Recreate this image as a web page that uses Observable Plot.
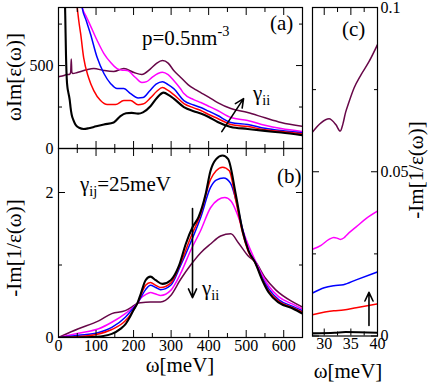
<!DOCTYPE html>
<html><head><meta charset="utf-8">
<script src="https://cdn.jsdelivr.net/npm/d3@7"></script>
<script src="https://cdn.jsdelivr.net/npm/@observablehq/plot@0.6"></script>
<style>
body{margin:0;background:#fff;}
#c{position:relative;width:436px;height:385px;font-family:"Liberation Serif","Times New Roman",Tinos,"Noto Serif","DejaVu Serif",serif;color:#000;overflow:hidden;}
#c .p{position:absolute;}
#c svg text{font-family:"Liberation Serif","Times New Roman",Tinos,"Noto Serif","DejaVu Serif",serif;}
.t{position:absolute;white-space:nowrap;font-size:21px;line-height:1;}
.t sub{font-size:0.68em;vertical-align:-0.35em;line-height:0;}
.t sup{font-size:0.68em;vertical-align:0.6em;line-height:0;}
.rot{transform:translate(-50%,-50%) rotate(-90deg);}
.ctr{transform:translateX(-50%);}
</style></head><body><div id="c"></div>
<script>
// ---------- panel (a): ωIm[ε(ω)] vs ω [meV] ----------
const A_k = [[16,1000],[18,800],[20,560],[22,420],[24,365],[26,340],[28,318],[30,290],[32,250],[35,205],[40,170],[45,145],[55,125],[67,118],[80,122],[94,130],[121,145],[147,157],[165,195],[180,212],[195,215],[212,210],[225,218],[245,255],[262,305],[280,337],[295,320],[307,301],[334,250],[360,225],[379,211],[400,190],[424,160],[459,130],[504,118],[550,106],[593,96],[650,80]];
const A_r = [[45,1000],[50,850],[54,770],[59,692],[67,548],[80,428],[94,349],[112,289],[130,265],[152,265],[174,289],[192,289],[212,264],[225,268],[245,305],[262,345],[277,367],[292,350],[307,325],[334,271],[360,245],[379,229],[400,205],[424,181],[459,145],[504,132],[550,113],[593,102],[650,88]];
const A_b = [[55,1000],[63,850],[74,770],[85,692],[103,548],[121,452],[139,391],[156,361],[174,361],[192,331],[212,305],[225,307],[242,345],[260,388],[277,403],[292,385],[307,361],[334,289],[360,262],[379,247],[400,225],[424,199],[459,157],[504,145],[550,122],[593,108],[650,95]];
const A_m = [[50,1000],[63,850],[75,790],[85,741],[103,651],[121,572],[139,518],[156,482],[170,472],[183,470],[205,428],[222,398],[235,403],[250,430],[265,452],[277,460],[292,445],[307,410],[325,360],[334,331],[360,295],[379,277],[400,255],[424,229],[459,187],[504,169],[550,140],[593,120],[650,102]];
const A_p = [[0,433],[10,437],[20,444],[30,448],[32.5,460],[34,540],[35.5,460],[38,452],[50,458],[75,475],[94,482],[121,470],[147,464],[174,482],[201,458],[222,446],[245,480],[262,515],[277,530],[292,515],[307,470],[325,430],[345,385],[365,355],[379,337],[400,310],[424,277],[459,241],[504,217],[550,185],[593,157],[650,133]];

// ---------- panel (b): -Im[1/ε(ω)] vs ω [meV] ----------
const B_k = [[0,0],[50,0],[100,0.01],[142,0.05],[165,0.12],[178,0.18],[190,0.28],[201,0.39],[210,0.47],[219,0.60],[232,0.79],[245,0.84],[259,0.79],[277,0.74],[299,0.79],[321,0.99],[339,1.29],[357,1.52],[373,1.66],[392,1.98],[405,2.30],[420,2.46],[437,2.51],[452,2.46],[472,1.98],[490,1.48],[506,1.20],[525,1.02],[543,0.79],[560,0.62],[587,0.48],[624,0.40],[650,0.33]];
const B_r = [[0,0],[50,0.01],[100,0.04],[142,0.11],[178,0.23],[195,0.34],[210,0.47],[219,0.58],[232,0.72],[245,0.76],[259,0.72],[272,0.69],[299,0.75],[325,1.02],[352,1.38],[379,1.71],[405,2.18],[420,2.30],[437,2.35],[455,2.30],[472,1.90],[490,1.45],[506,1.18],[525,1.02],[543,0.80],[560,0.64],[587,0.50],[624,0.41],[650,0.35]];
const B_b = [[0,0],[53,0.03],[107,0.07],[142,0.14],[178,0.28],[195,0.38],[210,0.47],[219,0.55],[232,0.66],[245,0.72],[259,0.69],[272,0.66],[299,0.72],[325,0.99],[352,1.31],[379,1.66],[405,2.07],[420,2.17],[440,2.20],[458,2.13],[475,1.85],[490,1.50],[506,1.20],[525,1.03],[543,0.82],[560,0.67],[587,0.52],[624,0.43],[650,0.37]];
const B_m = [[0,0],[53,0.06],[107,0.12],[142,0.21],[178,0.33],[195,0.40],[210,0.47],[219,0.54],[232,0.59],[245,0.62],[259,0.60],[272,0.58],[299,0.65],[325,0.88],[352,1.20],[379,1.48],[405,1.79],[425,1.90],[443,1.93],[460,1.88],[480,1.65],[500,1.35],[525,1.05],[543,0.86],[560,0.71],[587,0.56],[624,0.46],[650,0.39]];
const B_p = [[0,0],[53,0.12],[107,0.23],[142,0.33],[178,0.37],[195,0.42],[210,0.47],[219,0.48],[245,0.49],[272,0.49],[299,0.58],[325,0.80],[352,1.00],[379,1.17],[405,1.29],[432,1.40],[459,1.43],[480,1.30],[506,1.12],[525,1.04],[551,0.82],[578,0.66],[624,0.49],[650,0.42]];

// ---------- panel (c): -Im[1/ε(ω)] zoom, ω [meV] ----------
const C_k = [[27.8,0.0008],[32,0.0010],[34,0.0012],[40,0.0010]];
const C_r = [[27.8,0.0065],[31.8,0.0077],[33.6,0.0079],[36,0.0086],[40,0.0098]];
const C_b = [[27.8,0.0131],[30,0.0147],[31.8,0.0153],[33.6,0.0156],[36,0.0171],[40,0.0195]];
const C_m = [[27.8,0.0264],[29.4,0.0276],[30.9,0.0294],[31.8,0.0300],[32.4,0.0298],[33.0,0.0294],[33.8,0.0300],[34.2,0.0307],[36.0,0.0332],[37.9,0.0358],[40,0.0380]];
const C_p = [[27.8,0.0621],[29.4,0.0649],[30.9,0.0661],[32.2,0.0643],[33.0,0.0624],[33.5,0.0645],[34.0,0.0680],[34.6,0.0710],[35.6,0.0755],[36.9,0.0795],[38.4,0.0835],[40,0.0887]];

// series order: maroon, magenta, blue, red, black
const seriesColors = ["#670748","#ff00ff","#0000ff","#ff0000","#000000"];
const seriesWidths = [1.5,1.5,1.5,1.5,2.1];

// ticks
const A_xMajor = [0,100,200,300,400,500,600], A_xMinor = [50,150,250,350,450,550,650];
const A_yMajor = [0,500], A_yMinor = [250,750];
const B_yMajor = [0,2], B_yMinor = [1];
const C_xMajor = [30,35,40], C_xMinor = [32.5,37.5];
const C_yMajor = [0,0.05,0.1], C_yMinor = [0.025,0.075];

// arrows (data coords)
const arrowA = [{x1:435,y1:102,x2:493,y2:301}];
const arrowB = [{x1:357,y1:1.78,x2:357,y2:0.55}];
const arrowC = [{x1:38.4,y1:0.0032,x2:38.4,y2:0.0133}];

const serif = "'Liberation Serif','Times New Roman',Tinos,'Noto Serif','DejaVu Serif',serif";
const font = {fontFamily:serif, fontSize:"16px", background:"transparent", overflow:"visible", color:"#000"};
const fmt = d => `${d}`;

function lines(sets){
  return sets.map((pts,i)=>Plot.line(pts,{x:d=>d[0],y:d=>d[1],stroke:seriesColors[i],strokeWidth:seriesWidths[i],curve:"monotone-x",clip:true}));
}
function frameTicks(xMaj,xMin,yMaj,yMin){
  const o={fill:"none",label:null,stroke:"#000",strokeWidth:1};
  return [
    Plot.axisX(xMaj,{...o,anchor:"bottom",tickSize:-7}),
    Plot.axisX(xMin,{...o,anchor:"bottom",tickSize:-4}),
    Plot.axisX(xMaj,{...o,anchor:"top",tickSize:-7}),
    Plot.axisX(xMin,{...o,anchor:"top",tickSize:-4}),
    Plot.axisY(yMaj,{...o,anchor:"left",tickSize:-7}),
    Plot.axisY(yMin,{...o,anchor:"left",tickSize:-4}),
    Plot.axisY(yMaj,{...o,anchor:"right",tickSize:-7}),
    Plot.axisY(yMin,{...o,anchor:"right",tickSize:-4})
  ];
}
function arrow(data){
  return Plot.arrow(data,{x1:"x1",y1:"y1",x2:"x2",y2:"y2",stroke:"#000",strokeWidth:1.6,headLength:9,headAngle:50});
}

const plotA = Plot.plot({
  width:312,height:152,marginLeft:58,marginRight:10,marginTop:7,marginBottom:4,
  x:{domain:[0,650]}, y:{domain:[0,850]}, style:font,
  marks:[
    ...lines([A_p,A_m,A_b,A_r,A_k]),
    arrow(arrowA),
    ...frameTicks(A_xMajor,A_xMinor,A_yMajor,A_yMinor),
    Plot.axisY(A_yMajor,{anchor:"left",tickSize:0,tickPadding:5,label:null,tickFormat:fmt,fontFamily:serif}),
    Plot.frame({stroke:"#000",strokeWidth:1.2})
  ]
});
const plotB = Plot.plot({
  width:312,height:220,marginLeft:58,marginRight:10,marginTop:7,marginBottom:24,
  x:{domain:[0,650]}, y:{domain:[0,2.607]}, style:font,
  marks:[
    ...lines([B_p,B_m,B_b,B_r,B_k]),
    arrow(arrowB),
    ...frameTicks(A_xMajor,A_xMinor,B_yMajor,B_yMinor),
    Plot.axisY(B_yMajor,{anchor:"left",tickSize:0,tickPadding:5,label:null,tickFormat:fmt,fontFamily:serif}),
    Plot.axisX(A_xMajor,{anchor:"bottom",tickSize:0,tickPadding:2,label:null,tickFormat:fmt,fontFamily:serif}),
    Plot.frame({stroke:"#000",strokeWidth:1.2})
  ]
});
const plotC = Plot.plot({
  width:136,height:385,marginLeft:12,marginRight:59,marginTop:7,marginBottom:49.5,
  x:{domain:[27.8,40]}, y:{domain:[0,0.1]}, style:font,
  marks:[
    ...lines([C_p,C_m,C_b,C_r,C_k]),
    arrow(arrowC),
    ...frameTicks(C_xMajor,C_xMinor,C_yMajor,C_yMinor),
    Plot.axisY(C_yMajor,{anchor:"right",tickSize:0,tickPadding:3,label:null,tickFormat:fmt,fontFamily:serif}),
    Plot.axisX(C_xMajor,{anchor:"bottom",tickSize:0,tickPadding:2,label:null,tickFormat:fmt,fontFamily:serif}),
    Plot.frame({stroke:"#000",strokeWidth:1.2})
  ]
});

const root = document.getElementById("c");
function place(node,left,top){const d=document.createElement("div");d.className="p";d.style.left=left+"px";d.style.top=top+"px";d.appendChild(node);root.appendChild(d);}
place(plotA,0,0);
place(plotB,0,141);
place(plotC,300,0);

// text labels: [html, left, baselineY, extra class]
const fs = 21, asc = 0.838*fs;
const labels = [
  ["p=0.5nm<sup>-3</sup>",142,46,""],
  ["(a)",270,31,""],
  ["(b)",277,184,""],
  ["(c)",342,37,""],
  ["γ<sub>ij</sub>=25meV",80,192,""],
  ["γ<sub>ii</sub>",253,101,""],
  ["γ<sub>ii</sub>",202,296,""],
  ["ω[meV]",180,373,"ctr"],
  ["ω[meV]",348,379,"ctr"]
];
for(const [h,x,b,cls] of labels){
  const s=document.createElement("span");s.className="t "+cls;s.innerHTML=h;
  s.style.left=x+"px";s.style.top=(b-asc)+"px";root.appendChild(s);
}
const rotLabels = [["ωIm[ε(ω)]",14,77],["-Im[1/ε(ω)]",14,248],["-Im[1/ε(ω)]",416,170]];
for(const [h,x,y] of rotLabels){
  const s=document.createElement("span");s.className="t rot";s.innerHTML=h;
  s.style.left=x+"px";s.style.top=y+"px";root.appendChild(s);
}
</script></body></html>
